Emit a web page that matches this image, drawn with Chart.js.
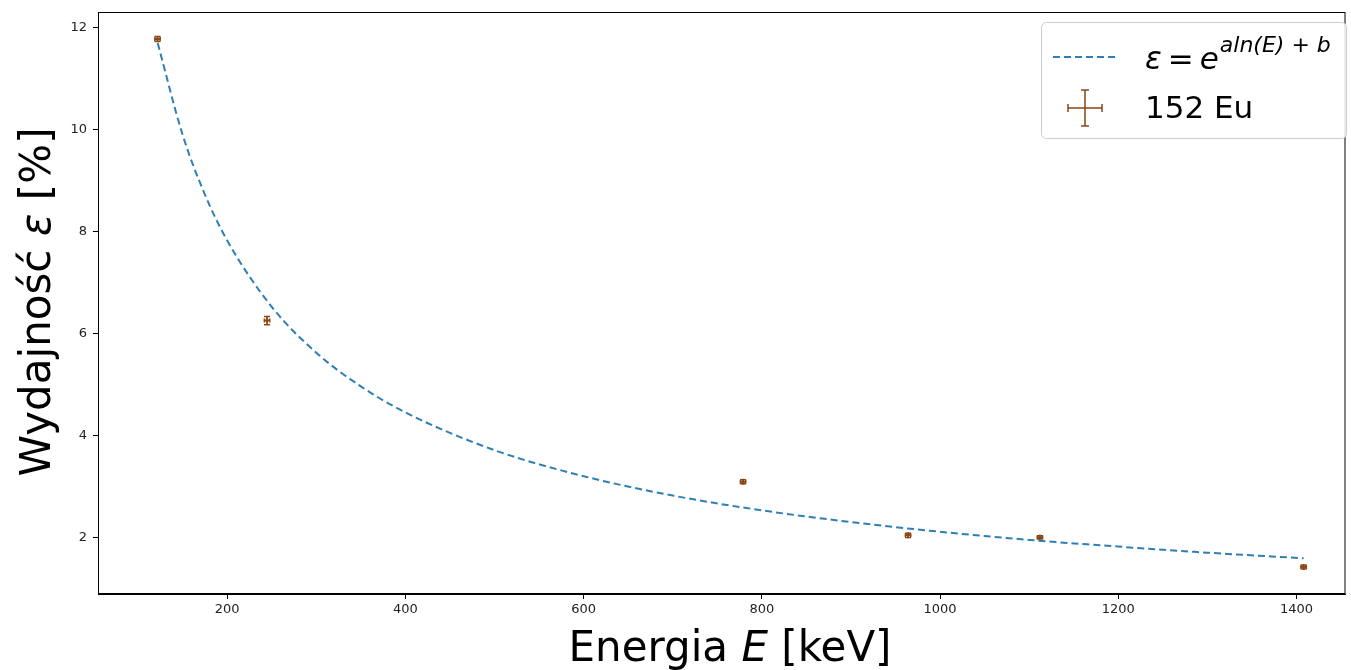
<!DOCTYPE html>
<html>
<head>
<meta charset="utf-8">
<script src="https://cdn.jsdelivr.net/npm/chart.js@4"></script>
<style>
  html, body { margin: 0; padding: 0; background: #fff; }
  #c { display: block; }
</style>
</head>
<body>
<canvas id="c" width="1351" height="670"></canvas>
<script>
// ---- data ----
const energies   = [121.8, 244.7, 778.9, 964.1, 1112.1, 1408.0];   // keV
const efficiency = [11.78, 6.26, 3.10, 2.05, 2.01, 1.43];          // %
const effErr     = [0.05, 0.08, 0.04, 0.04, 0.03, 0.04];
const energyErr  = [3, 3, 3, 3, 3, 3];

const fitEnergy = [122, 150, 175, 200, 250, 300, 350, 400, 500, 600, 700, 800, 900, 1000, 1100, 1200, 1300, 1408];
const fitEff    = [11.70, 9.90, 8.73, 7.83, 6.53, 5.63, 4.97, 4.46, 3.72, 3.21, 2.83, 2.54, 2.31, 2.12, 1.96, 1.83, 1.71, 1.60];

const xTicks = [200, 400, 600, 800, 1000, 1200, 1400];
const yTicks = [2, 4, 6, 8, 10, 12];

const FIT_COLOR = '#2f7fb5';
const PT_COLOR = '#8b4513';
const FONT = "'DejaVu Sans', sans-serif";

const fitData = fitEnergy.map((x, i) => ({ x, y: fitEff[i] }));
const ptData = energies.map((x, i) => ({ x, y: efficiency[i] }));

const extras = {
  id: 'extras',
  afterDatasetsDraw(chart) {
    const { ctx, scales: { x, y } } = chart;
    ctx.save();
    ctx.strokeStyle = PT_COLOR;
    ctx.lineWidth = 1.5;
    energies.forEach((e, i) => {
      const px = x.getPixelForValue(e), py = y.getPixelForValue(efficiency[i]);
      const y1 = y.getPixelForValue(efficiency[i] - effErr[i]);
      const y2 = y.getPixelForValue(efficiency[i] + effErr[i]);
      const x1 = x.getPixelForValue(e - energyErr[i]);
      const x2 = x.getPixelForValue(e + energyErr[i]);
      ctx.beginPath();
      ctx.moveTo(px, y1); ctx.lineTo(px, y2);
      ctx.moveTo(x1, py); ctx.lineTo(x2, py);
      ctx.moveTo(px - 3, y1); ctx.lineTo(px + 3, y1);
      ctx.moveTo(px - 3, y2); ctx.lineTo(px + 3, y2);
      ctx.moveTo(x1, py - 2); ctx.lineTo(x1, py + 2);
      ctx.moveTo(x2, py - 2); ctx.lineTo(x2, py + 2);
      ctx.stroke();
    });
    ctx.restore();
  },
  afterDraw(chart) {
    const { ctx, chartArea: a } = chart;
    ctx.save();
    ctx.strokeStyle = '#000';
    ctx.lineWidth = 1;
    ctx.strokeRect(a.left + 0.5, a.top + 0.5, a.right - a.left - 1, a.bottom - a.top - 1);

    ctx.fillStyle = '#000';
    ctx.textBaseline = 'alphabetic';
    const fs = 42;
    const parts = [['Energia ', 'normal'], ['E', 'italic'], [' [keV]', 'normal']];
    let total = 0;
    parts.forEach(p => { ctx.font = `${p[1]} ${fs}px ${FONT}`; total += ctx.measureText(p[0]).width; });
    let cx = 730 - total / 2;
    parts.forEach(p => { ctx.font = `${p[1]} ${fs}px ${FONT}`; ctx.fillText(p[0], cx, 661); cx += ctx.measureText(p[0]).width; });

    const yparts = [['Wydajność ', 'normal'], ['ε', 'italic'], [' [%]', 'normal']];
    let ytot = 0;
    yparts.forEach(p => { ctx.font = `${p[1]} ${fs}px ${FONT}`; ytot += ctx.measureText(p[0]).width; });
    ctx.translate(50, 302);
    ctx.rotate(-Math.PI / 2);
    let yx = -ytot / 2;
    yparts.forEach(p => { ctx.font = `${p[1]} ${fs}px ${FONT}`; ctx.fillText(p[0], yx, 0); yx += ctx.measureText(p[0]).width; });
    ctx.restore();

    // legend
    ctx.save();
    ctx.fillStyle = 'rgba(255,255,255,0.85)';
    ctx.strokeStyle = '#cccccc';
    ctx.lineWidth = 1;
    ctx.beginPath();
    ctx.roundRect(1041.5, 22.5, 305, 116, 5);
    ctx.fill(); ctx.stroke();

    ctx.strokeStyle = FIT_COLOR;
    ctx.lineWidth = 2;
    ctx.setLineDash([7, 4]);
    ctx.beginPath(); ctx.moveTo(1053, 57); ctx.lineTo(1117, 57); ctx.stroke();
    ctx.setLineDash([]);

    ctx.strokeStyle = PT_COLOR;
    ctx.lineWidth = 1.5;
    ctx.beginPath();
    ctx.moveTo(1068, 108); ctx.lineTo(1102, 108);
    ctx.moveTo(1085, 90); ctx.lineTo(1085, 126);
    ctx.moveTo(1068, 104); ctx.lineTo(1068, 112);
    ctx.moveTo(1102, 104); ctx.lineTo(1102, 112);
    ctx.moveTo(1081, 90); ctx.lineTo(1089, 90);
    ctx.moveTo(1081, 126); ctx.lineTo(1089, 126);
    ctx.stroke();

    ctx.fillStyle = '#000';
    ctx.textBaseline = 'alphabetic';
    const big = 31, small = 22;
    let lx = 1145;
    const seg = [
      ['ε', 'italic', big, 0, 6], ['=', 'normal', big, 0, 6], ['e', 'italic', big, 0, 1],
      ['aln(E) + b', 'italic', small, -17, 0]
    ];
    seg.forEach(s => {
      ctx.font = `${s[1]} ${s[2]}px ${FONT}`;
      ctx.fillText(s[0], lx, 69 + s[3]);
      lx += ctx.measureText(s[0]).width + s[4];
    });
    ctx.font = `normal ${big}px ${FONT}`;
    ctx.fillText('152 Eu', 1145, 118);
    ctx.restore();
  }
};

new Chart(document.getElementById('c'), {
  type: 'scatter',
  data: {
    datasets: [
      {
        label: 'fit',
        data: fitData,
        showLine: true,
        borderColor: FIT_COLOR,
        borderWidth: 2,
        borderDash: [7, 4],
        pointRadius: 0,
        cubicInterpolationMode: 'monotone',
        fill: false
      },
      {
        label: '152 Eu',
        data: ptData,
        showLine: false,
        pointStyle: 'cross',
        pointRadius: 3,
        borderWidth: 1.5,
        borderColor: PT_COLOR,
        backgroundColor: PT_COLOR
      }
    ]
  },
  options: {
    responsive: false,
    devicePixelRatio: 1,
    animation: false,
    layout: { padding: { top: 12, right: -2, left: 0, bottom: 0 } },
    plugins: { legend: { display: false }, tooltip: { enabled: false } },
    scales: {
      x: {
        type: 'linear',
        min: 55, max: 1455,
        afterFit: s => { s.height = 76; s.paddingLeft = 0; s.paddingRight = 0; },
        afterBuildTicks: s => { s.ticks = xTicks.map(v => ({ value: v })); },
        ticks: { font: { family: FONT, size: 13 }, color: '#222', padding: 3, maxRotation: 0, callback: v => String(v) },
        grid: { drawOnChartArea: false, tickLength: 5, color: '#000', tickWidth: 1 },
        border: { color: '#000', width: 1 }
      },
      y: {
        type: 'linear',
        min: 0.9, max: 12.31,
        afterFit: s => { s.width = 98; s.paddingTop = 0; s.paddingBottom = 0; },
        afterBuildTicks: s => { s.ticks = yTicks.map(v => ({ value: v })); },
        ticks: { font: { family: FONT, size: 13 }, color: '#222', padding: 6, callback: v => String(v) },
        grid: { drawOnChartArea: false, tickLength: 5, color: '#000', tickWidth: 1 },
        border: { color: '#000', width: 1 }
      }
    }
  },
  plugins: [extras]
});
</script>
</body>
</html>
